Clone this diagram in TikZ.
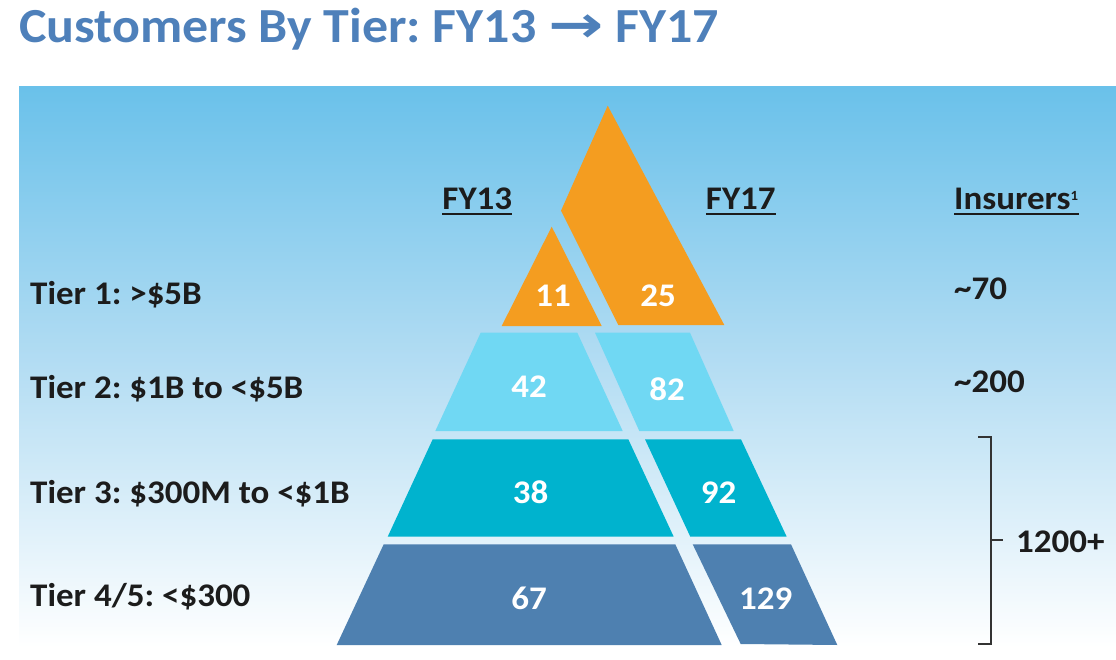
\documentclass[tikz,border=0pt]{standalone}
\usepackage{fontspec}
\setmainfont{Carlito}[FakeStretch=1.06]
\newfontfamily\arrowfont{DejaVu Sans}
\usetikzlibrary{positioning,calc}
\frenchspacing

\definecolor{titleblue}{RGB}{78,128,186}
\definecolor{skytop}{RGB}{106,193,234}
\definecolor{skymid}{RGB}{180,221,243}
\definecolor{tierorange}{RGB}{244,157,32}
\definecolor{tiercyan}{RGB}{112,216,243}
\definecolor{tierteal}{RGB}{0,179,206}
\definecolor{tierblue}{RGB}{78,128,176}
\definecolor{inkdark}{RGB}{28,28,28}

\begin{document}
\begin{tikzpicture}[
    x=1pt, y=-1pt,
    titletext/.style={anchor=base west, inner sep=0pt, text=titleblue, font=\bfseries\fontsize{49}{52}\selectfont},
    tierlabel/.style={anchor=base west, inner sep=0pt, text=inkdark, font=\bfseries\fontsize{33}{36}\selectfont},
    colhead/.style={anchor=base, inner sep=0pt, text=inkdark, font=\bfseries\fontsize{33}{36}\selectfont},
    count/.style={anchor=base, inner sep=0pt, text=white, font=\bfseries\fontsize{33}{36}\selectfont},
    uline/.style={draw=inkdark, line width=2pt},
    bracket/.style={draw=inkdark!90, line width=2.2pt},
    layerA/.style={fill=tierorange},
    layerB/.style={fill=tiercyan},
    layerC/.style={fill=tierteal},
    layerD/.style={fill=tierblue}
]
    \useasboundingbox (0,0) rectangle (1116,660);

    % backdrop
    \shade [top color=skytop, bottom color=white, middle color=skymid] (19,87) rectangle (1116,647);

    \node [titletext] (title) at (19,43) {Customers By Tier: FY13 \scalebox{1.35}[1.05]{\arrowfont\bfseries →} FY17};

    % pyramid, FY13 side
    \fill [layerA] (551.7,226.7) -- (601.7,326) -- (501.7,326) -- cycle;
    \fill [layerB] (480.7,332.7) -- (577.3,332.7) -- (622.7,431) -- (435.3,431) -- cycle;
    \fill [layerC] (432.7,439.3) -- (628.3,439.3) -- (673.7,536.7) -- (387.7,536.7) -- cycle;
    \fill [layerD] (383.7,544.3) -- (675.3,544.3) -- (721.7,645) -- (336.7,645) -- cycle;
    % pyramid, FY17 side
    \fill [layerA] (607.7,105.7) -- (724.3,325) -- (618.3,325) -- (561,210.7) -- cycle;
    \fill [layerB] (595,332.7) -- (690,332.7) -- (733.7,431) -- (639.3,431) -- cycle;
    \fill [layerC] (645,439.3) -- (741,439.3) -- (786.7,536.7) -- (690.3,536.7) -- cycle;
    \fill [layerD] (692.7,544.3) -- (791,544.3) -- (837.3,645) -- (740.7,644) -- cycle;

    \node [count] (c13a) at (553,306.5) {11};
    \node [count] (c17a) at (658,306.5) {25};
    \node [count] (c13b) at (529,397) {42};
    \node [count] (c17b) at (667,400) {82};
    \node [count] (c13c) at (530.5,503.3) {38};
    \node [count] (c17c) at (718.7,503.3) {92};
    \node [count] (c13d) at (529,609.3) {67};
    \node [count] (c17d) at (765.7,609.3) {129};

    % row labels
    \node [tierlabel] (tier1) at (30,305) {Tier 1: >\$5B};
    \node [tierlabel] (tier2) at (30,398.3) {Tier 2: \$1B to <\$5B};
    \node [tierlabel] (tier3) at (30,503.3) {Tier 3: \$300M to <\$1B};
    \node [tierlabel] (tier4) at (30,606.7) {Tier 4/5: <\$300};

    % column heads
    \node [colhead] (fy13) at (477.3,210) {FY13};
    \node [colhead] (fy17) at (740.8,210) {FY17};
    \node [colhead, anchor=base west] (insurers) at (954,210) {Insurers\textsuperscript{\fontsize{14}{14}\selectfont 1}};
    \draw [uline] ($(fy13.base west)+(0,4)$) -- ($(fy13.base east)+(0,4)$);
    \draw [uline] ($(fy17.base west)+(0,4)$) -- ($(fy17.base east)+(0,4)$);
    \draw [uline] ($(insurers.base west)+(0,4)$) -- ($(insurers.base east)+(0,4)$);

    % insurer counts
    \node [tierlabel] (ins1) at (954,299.3) {\textasciitilde70};
    \node [tierlabel] (ins2) at (954,392.7) {\textasciitilde200};
    \node [tierlabel] (ins3) at (1016,552.7) {1200+};

    \coordinate (brtop) at (978.3,436.7);
    \coordinate (brbot) at (978.3,644);
    \coordinate (brmid) at (990.7,540);
    \draw [bracket] (brtop) -| (brmid) |- (brbot);
    \draw [bracket] (brmid) -- ++(12,0);
\end{tikzpicture}
\end{document}
